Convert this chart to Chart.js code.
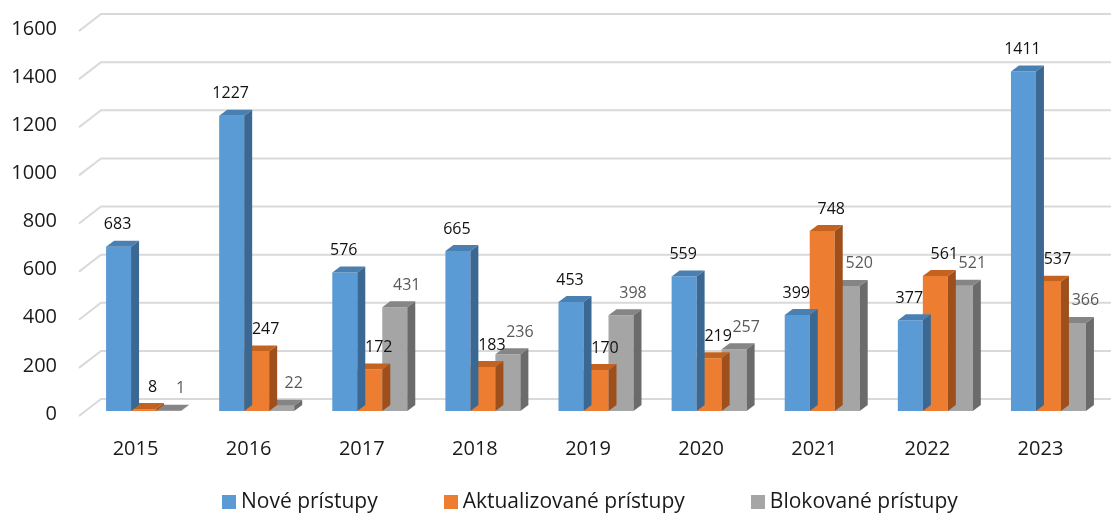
<!DOCTYPE html>
<html>
<head>
<meta charset="utf-8">
<script src="https://cdn.jsdelivr.net/npm/chart.js@4/dist/chart.umd.min.js"></script>
<style>
  body { margin: 0; background: #fff; }
  .wrap { position: relative; width: 1111px; height: 513px; }
  .legend {
    position: absolute; left: 222px; top: 488px;
    display: flex; gap: 66px;
    font: 21px "Open Sans", sans-serif; color: #1a1a1a; line-height: 24px;
  }
  .legend span.box { display: inline-block; width: 14px; height: 14px; margin-right: 5px; vertical-align: -1px; }
</style>
</head>
<body>
<div class="wrap">
  <canvas id="chart" width="1111" height="513"></canvas>
  <div class="legend" id="legend"></div>
</div>
<script>
const years = ["2015", "2016", "2017", "2018", "2019", "2020", "2021", "2022", "2023"];
const novePristupy = [683, 1227, 576, 665, 453, 559, 399, 377, 1411];
const aktualizovanePristupy = [8, 247, 172, 183, 170, 219, 748, 561, 537];
const blokovanePristupy = [1, 22, 431, 236, 398, 257, 520, 521, 366];
const seriesNames = ["Nové prístupy", "Aktualizované prístupy", "Blokované prístupy"];

const frontColors = ["#5b9bd5", "#ed7d31", "#a5a5a5"];
const topColors = ["#4a7fb2", "#c4631f", "#858585"];
const sideColors = ["#3b6892", "#9f4f1b", "#6b6b6b"];
const labelColors = ["#111", "#111", "#595959"];
const labelShift = [-1, 9, 12];

const depthX = 8;
const depthY = -6;

// back wall gridlines with the little diagonal on the left
const wallGrid = {
  id: "wallGrid",
  beforeDatasetsDraw(chart) {
    const { ctx, chartArea, scales } = chart;
    ctx.save();
    ctx.strokeStyle = "#d9d9d9";
    ctx.lineWidth = 2;
    scales.y.ticks.forEach((t) => {
      const y = scales.y.getPixelForValue(t.value);
      ctx.beginPath();
      ctx.moveTo(chartArea.left - 8, y + 5);
      ctx.lineTo(chartArea.left + 14, y - 12);
      ctx.lineTo(chart.width, y - 12);
      ctx.stroke();
    });
    ctx.restore();
  },
};

// top and side faces of each bar
const bars3d = {
  id: "bars3d",
  afterDatasetDraw(chart, args) {
    const ctx = chart.ctx;
    const i = args.index;
    ctx.save();
    args.meta.data.forEach((el) => {
      const { x, y, base, width } = el.getProps(["x", "y", "base", "width"], true);
      const l = x - width / 2;
      const r = x + width / 2;
      ctx.fillStyle = topColors[i];
      ctx.beginPath();
      ctx.moveTo(l, y);
      ctx.lineTo(l + depthX, y + depthY);
      ctx.lineTo(r + depthX, y + depthY);
      ctx.lineTo(r, y);
      ctx.closePath();
      ctx.fill();
      ctx.fillStyle = sideColors[i];
      ctx.beginPath();
      ctx.moveTo(r, y);
      ctx.lineTo(r + depthX, y + depthY);
      ctx.lineTo(r + depthX, base + depthY);
      ctx.lineTo(r, base);
      ctx.closePath();
      ctx.fill();
    });
    ctx.restore();
  },
};

const valueLabels = {
  id: "valueLabels",
  afterDatasetsDraw(chart) {
    const ctx = chart.ctx;
    ctx.save();
    ctx.font = '16px "Open Sans", sans-serif';
    ctx.textAlign = "center";
    ctx.textBaseline = "middle";
    chart.data.datasets.forEach((ds, i) => {
      chart.getDatasetMeta(i).data.forEach((el, j) => {
        ctx.fillStyle = labelColors[i];
        ctx.fillText(ds.data[j], el.x + labelShift[i], el.y - 22);
      });
    });
    ctx.restore();
  },
};

const seriesData = [novePristupy, aktualizovanePristupy, blokovanePristupy];

new Chart(document.getElementById("chart"), {
  type: "bar",
  data: {
    labels: years,
    datasets: seriesData.map((d, i) => ({
      label: seriesNames[i],
      data: d,
      backgroundColor: frontColors[i],
      borderWidth: 0,
      categoryPercentage: 0.663,
      barPercentage: 1,
    })),
  },
  options: {
    responsive: false,
    animation: false,
    devicePixelRatio: 1,
    layout: { padding: { left: 10, right: 6, top: 26, bottom: 53 } },
    scales: {
      x: {
        grid: { display: false, drawTicks: false },
        border: { display: false },
        ticks: {
          font: { family: "Open Sans", size: 20 },
          color: "#1a1a1a",
          padding: 26,
          labelOffset: -8,
        },
        afterFit(scale) {
          scale.height = 49;
        },
      },
      y: {
        min: 0,
        max: 1600,
        grid: { display: false, drawTicks: false },
        border: { display: false },
        ticks: {
          stepSize: 200,
          font: { family: "Open Sans", size: 20 },
          color: "#1a1a1a",
          padding: 30,
          labelOffset: 3,
          callback: (v) => String(v),
        },
        afterFit(scale) {
          scale.width = 77;
          scale.paddingTop = 0;
          scale.paddingBottom = 0;
        },
      },
    },
    plugins: {
      legend: { display: false },
      tooltip: { enabled: false },
    },
  },
  plugins: [wallGrid, bars3d, valueLabels],
});

const legend = document.getElementById("legend");
seriesNames.forEach((name, i) => {
  const item = document.createElement("div");
  item.innerHTML = '<span class="box" style="background:' + frontColors[i] + '"></span>' + name;
  legend.appendChild(item);
});
</script>
</body>
</html>
